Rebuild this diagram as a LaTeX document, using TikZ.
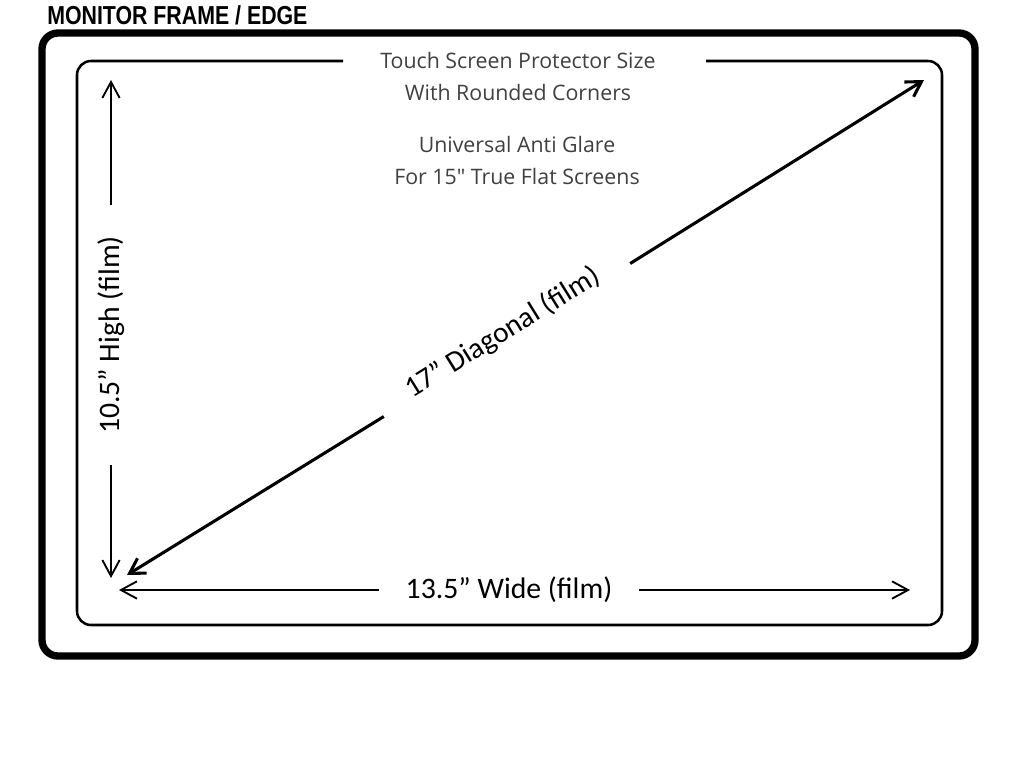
\documentclass[tikz,border=0pt]{standalone}
\usepackage{fontspec}
\setmainfont{Carlito}
\newfontfamily\notefont{Open Sans}
\newfontfamily\titlefont[FakeStretch=0.82]{Liberation Sans}
\usetikzlibrary{arrows.meta}
\begin{document}
\begin{tikzpicture}[
        x                = 0.75pt,
        y                = -0.75pt,
        frame/.style     = {line width=5.5pt, rounded corners=12pt},
        film/.style      = {line width=1.9pt, rounded corners=10.5pt},
        measure/.style   = {line width=1.4pt, -{Straight Barb[length=12pt, width=13pt, line width=1.4pt]}},
        diagline/.style  = {line width=2.3pt, -{Straight Barb[length=11pt, width=13pt, line width=2.3pt]}},
        note/.style      = {text=black!75, align=center, font=\notefont\fontsize{16}{24}\selectfont},
        dim/.style       = {inner ysep=0pt, font=\fontsize{22.3}{26}\selectfont},
        %sloped
      ]
        \fill[white] (0,0) rectangle (1024,768);
        \useasboundingbox (0,0) rectangle (1024,768);

        \node[anchor=west, inner sep=0pt, font=\titlefont\bfseries\fontsize{19.5}{22}\selectfont] (title) at (47,15) {MONITOR FRAME / EDGE};

        \draw[frame] (42,33) rectangle (975,656);

        \coordinate (filmL) at (343,61);
        \coordinate (filmR) at (706,61);
        \draw[film] (filmL) -| (77,625) -| (942,61) -- (filmR);

        \node[note] (size) at (518,76) {Touch Screen Protector Size\\With Rounded Corners};
        \node[note] (glare) at (517,160) {Universal Anti Glare\\For 15" True Flat Screens};

        % height
        \coordinate (highT) at (111,80);
        \coordinate (highB) at (111,578);
        \node[dim, rotate=90, inner xsep=23pt] (high) at (111,335) {10.5” High (film)};
        \draw[measure] (high.east) -- (highT);
        \draw[measure] (high.west) -- (highB);

        % width
        \coordinate (wideL) at (119,590);
        \coordinate (wideR) at (910,590);
        \node[dim, inner xsep=20pt] (wide) at (509,590) {13.5” Wide (film)};
        \draw[measure] (wide.west) -- (wideL);
        \draw[measure] (wide.east) -- (wideR);

        % diagonal
        \coordinate (diagBL) at (127,575);
        \coordinate (diagTR) at (924,80);
        \node[dim, rotate=31.84, anchor=base, inner xsep=25pt, font=\fontsize{22}{26}\selectfont] (diag) at (507,340) {17” Diagonal (film)};
        \draw[diagline] (diag.base west) -- (diagBL);
        \draw[diagline] (diag.base east) -- (diagTR);
    \end{tikzpicture}
\end{document}
